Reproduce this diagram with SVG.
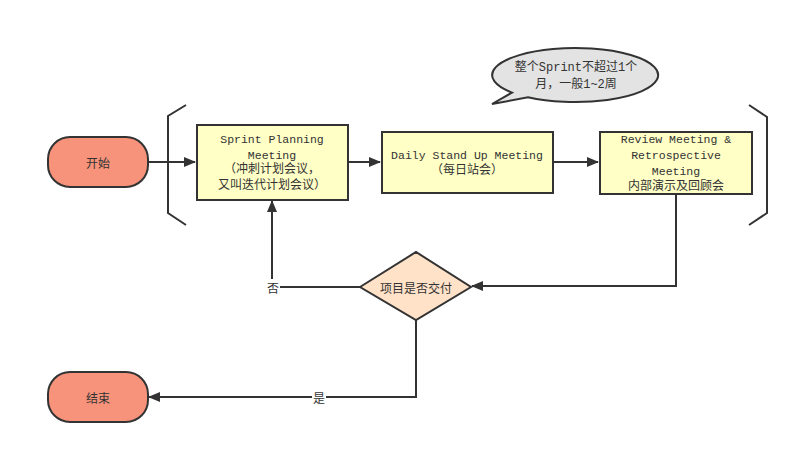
<svg xmlns="http://www.w3.org/2000/svg" width="798" height="454" viewBox="0 0 798 454">
<style>
.ln{fill:none;stroke:#333;stroke-width:2}
.term{fill:#f7937b;stroke:#333;stroke-width:2}
.box{fill:#ffffc6;stroke:#333;stroke-width:2}
.t{font-family:"Liberation Mono","Noto Sans CJK SC",monospace;font-size:12px;fill:#333;text-anchor:middle;dominant-baseline:central}
.lat{font-size:11.5px}
.cn{font-family:"Noto Sans CJK SC",sans-serif;font-size:12px;fill:#333;text-anchor:middle;dominant-baseline:central}
</style>
<defs>
<marker id="ar" markerWidth="12" markerHeight="10" refX="11" refY="5" orient="auto" markerUnits="userSpaceOnUse">
<path d="M0,0 L12,5 L0,10 Z" fill="#333"/>
</marker>
</defs>
<rect width="798" height="454" fill="#fff"/>
<g id="connectors">
<path class="ln" d="M148,162 H195" marker-end="url(#ar)"/>
<path class="ln" d="M348,162 H380" marker-end="url(#ar)"/>
<path class="ln" d="M553,162 H598" marker-end="url(#ar)"/>
<path class="ln" d="M676,194 V286 H472" marker-end="url(#ar)"/>
<path class="ln" d="M360,287 H272 V201" marker-end="url(#ar)"/>
<path class="ln" d="M416,320 V397 H149" marker-end="url(#ar)"/>
<rect x="266" y="279" width="14" height="16" fill="#fff"/>
<text class="cn" x="273" y="287">否</text>
<rect x="312" y="389" width="14" height="16" fill="#fff"/>
<text class="cn" x="319" y="397">是</text>
</g>
<g id="brackets">
<path class="ln" d="M186,105 L168,116 V213 L186,225"/>
<path class="ln" d="M749,105 L767,117 V213 L749,225"/>
</g>
<g id="start">
<rect class="term" x="48" y="137" width="100" height="50" rx="22" ry="22"/>
<text class="cn" x="98" y="162">开始</text>
</g>
<g id="sprint-planning">
<rect class="box" x="197" y="125" width="151" height="75"/>
<text class="t lat" x="272" y="139">Sprint Planning</text>
<text class="t lat" x="272" y="155">Meeting</text>
<text class="t" x="272" y="170">（冲刺计划会议，</text>
<text class="t" x="272" y="186">又叫迭代计划会议）</text>
</g>
<g id="daily">
<rect class="box" x="382" y="132" width="171" height="61"/>
<text class="t lat" x="467" y="155">Daily Stand Up Meeting</text>
<text class="t" x="467" y="171">（每日站会）</text>
</g>
<g id="review">
<rect class="box" x="600" y="132" width="152" height="62"/>
<text class="t lat" x="676" y="139">Review Meeting &amp;</text>
<text class="t lat" x="676" y="155">Retrospective</text>
<text class="t lat" x="676" y="171">Meeting</text>
<text class="t" x="676" y="187">内部演示及回顾会</text>
</g>
<g id="note">
<path d="M512,92.6 A83,27 0 1,1 528,97.3 L492,104 Z" fill="#e3e3e3" stroke="#333" stroke-width="2"/>
<text class="t" x="576" y="68">整个Sprint不超过1个</text>
<text class="t" x="576" y="85">月，一般1~2周</text>
</g>
<g id="decision">
<path d="M360,287 L416,252 L471,287 L416,320 Z" fill="#ffe2c8" stroke="#333" stroke-width="2"/>
<text class="cn" x="416" y="287">项目是否交付</text>
</g>
<g id="end">
<rect class="term" x="48" y="372" width="100" height="50" rx="22" ry="22"/>
<text class="cn" x="98" y="397">结束</text>
</g>
</svg>
